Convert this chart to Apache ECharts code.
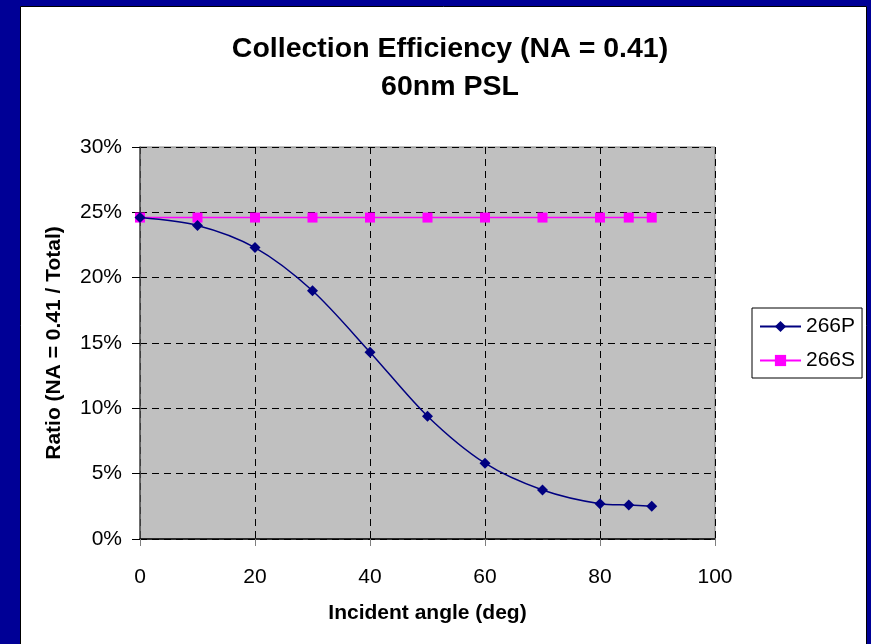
<!DOCTYPE html>
<html>
<head>
<meta charset="utf-8">
<script src="https://cdn.jsdelivr.net/npm/echarts@6/dist/echarts.min.js"></script>
<style>
  html, body { margin: 0; padding: 0; background: #000096; }
  #chart { width: 871px; height: 644px; }
</style>
</head>
<body>
<div id="chart"></div>
<script>
// Incident angle (deg)
const angles = [0, 10, 20, 30, 40, 50, 60, 70, 80, 85, 89];
// Collection ratio, percent of total
const p266 = [24.6, 24.0, 22.3, 19.0, 14.3, 9.4, 5.8, 3.75, 2.7, 2.6, 2.5];
const s266 = [24.6, 24.6, 24.6, 24.6, 24.6, 24.6, 24.6, 24.6, 24.6, 24.6, 24.6];
const seriesNames = ['266P', '266S'];
const yTicks = [0, 5, 10, 15, 20, 25, 30];

const pair = (xs, ys) => xs.map((x, i) => [x, ys[i]]);
const font = 'Arial, "Liberation Sans", sans-serif';

const chart = echarts.init(document.getElementById('chart'));
chart.setOption({
  backgroundColor: '#000096',
  animation: false,
  graphic: [{
    type: 'rect',
    z: -10,
    shape: { x: 20.5, y: 6.5, width: 846, height: 660 },
    style: { fill: '#ffffff', stroke: '#000000', lineWidth: 1 }
  }],
  title: {
    text: 'Collection Efficiency (NA = 0.41)\n60nm PSL',
    left: 445,
    top: 25,
    textAlign: 'center',
    textStyle: { fontFamily: font, fontWeight: 'bold', fontSize: 28.5, lineHeight: 38, color: '#000' }
  },
  legend: {
    orient: 'vertical',
    left: 752,
    top: 308,
    padding: [8, 7, 7, 7],
    itemGap: 13,
    itemWidth: 41,
    itemHeight: 14,
    backgroundColor: '#ffffff',
    borderColor: '#000000',
    borderWidth: 1,
    borderRadius: 0,
    data: seriesNames,
    textStyle: { fontFamily: font, fontSize: 21, lineHeight: 21, color: '#000' }
  },
  grid: {
    left: 140, right: 156, top: 147, bottom: 105,
    show: true,
    backgroundColor: '#c0c0c0',
    borderColor: '#808080',
    borderWidth: 1
  },
  xAxis: {
    type: 'value',
    min: 0, max: 100, interval: 20,
    name: 'Incident angle (deg)',
    nameLocation: 'middle',
    nameGap: 64,
    nameTextStyle: { fontFamily: font, fontWeight: 'bold', fontSize: 21, color: '#000' },
    axisLine: { show: true, onZero: false, lineStyle: { color: '#000', width: 1.5 } },
    axisTick: { show: true, inside: false, length: 7, lineStyle: { color: '#808080' } },
    axisLabel: { fontFamily: font, fontSize: 21, color: '#000', margin: 28 },
    splitLine: { show: true, lineStyle: { color: '#000', type: [7, 5], width: 1 } }
  },
  yAxis: {
    type: 'value',
    min: yTicks[0], max: yTicks[yTicks.length - 1], interval: 5,
    name: 'Ratio (NA = 0.41 / Total)',
    nameLocation: 'middle',
    nameGap: 75,
    nameTextStyle: { fontFamily: font, fontWeight: 'bold', fontSize: 21, color: '#000' },
    axisLine: { show: true, lineStyle: { color: '#505050', width: 1.5 } },
    axisTick: { show: true, inside: false, length: 8, lineStyle: { color: '#000' } },
    axisLabel: { fontFamily: font, fontSize: 21, color: '#000', margin: 18, formatter: '{value}%' },
    splitLine: { show: true, lineStyle: { color: '#000', type: [7, 5], width: 1 } }
  },
  series: [
    {
      name: seriesNames[0],
      type: 'line',
      smooth: 0.3,
      data: pair(angles, p266),
      symbol: 'diamond',
      symbolSize: 11,
      itemStyle: { color: '#000080' },
      lineStyle: { color: '#000080', width: 1.5 },
      z: 3
    },
    {
      name: seriesNames[1],
      type: 'line',
      data: pair(angles, s266),
      symbol: 'rect',
      symbolSize: 10,
      itemStyle: { color: '#ff00ff' },
      lineStyle: { color: '#ff00ff', width: 1.5 },
      z: 2
    }
  ]
});
</script>
</body>
</html>
